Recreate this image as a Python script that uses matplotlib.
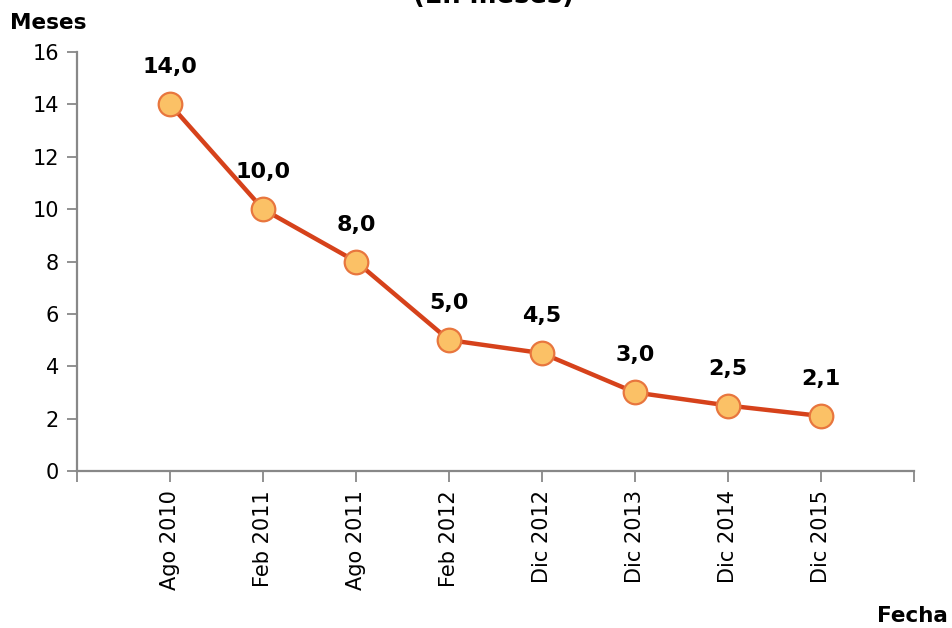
import numpy as np
import matplotlib.pyplot as plt

fechas = ['Ago 2010', 'Feb 2011', 'Ago 2011', 'Feb 2012',
          'Dic 2012', 'Dic 2013', 'Dic 2014', 'Dic 2015']
meses = [14.0, 10.0, 8.0, 5.0, 4.5, 3.0, 2.5, 2.1]
etiquetas = ['14,0', '10,0', '8,0', '5,0', '4,5', '3,0', '2,5', '2,1']

plt.rcParams['font.family'] = 'DejaVu Sans'

fig = plt.figure(figsize=(9.52, 6.28), dpi=100)
ax = fig.add_axes([77/952, 1 - 471/628, (914 - 77)/952, (471 - 52)/628])

x = np.arange(1, len(meses) + 1)
ax.plot(x, meses, color='#D6421B', lw=3.2, zorder=2,
        marker='o', ms=17, mfc='#FBC166', mec='#E8763E', mew=1.6)

for xi, v, t in zip(x, meses, etiquetas):
    ax.annotate(t, (xi, v), xytext=(0, 37), textcoords='offset pixels',
                ha='center', va='center', fontsize=16, fontweight='bold')

ax.set_xlim(0, len(meses) + 1)
ax.set_ylim(0, 16)
ax.set_yticks(range(0, 17, 2))
ax.tick_params(axis='y', labelsize=15, length=7, width=1.3, color='#888888', pad=6)

# category ticks sit between the axis ends; labels only under each date
ax.set_xticks(np.arange(0, len(meses) + 2))
ax.set_xticklabels([''] + fechas + [''], rotation=90)
ax.tick_params(axis='x', labelsize=15, length=8, width=1.3, color='#888888', pad=6)

for s in ['top', 'right']:
    ax.spines[s].set_visible(False)
for s in ['left', 'bottom']:
    ax.spines[s].set_color('#888888')
    ax.spines[s].set_linewidth(1.6)

fig.text(10/952, 1 - 23/628, 'Meses', fontsize=15.5, fontweight='bold',
         ha='left', va='center')
fig.text(948/952, 1 - 616/628, 'Fecha', fontsize=15.5, fontweight='bold',
         ha='right', va='center')
fig.text(493/952, 1 - 9/628, '(En meses)', fontsize=18.5, fontweight='bold',
         ha='center', va='bottom')

fig.savefig('out.png', dpi=100)
